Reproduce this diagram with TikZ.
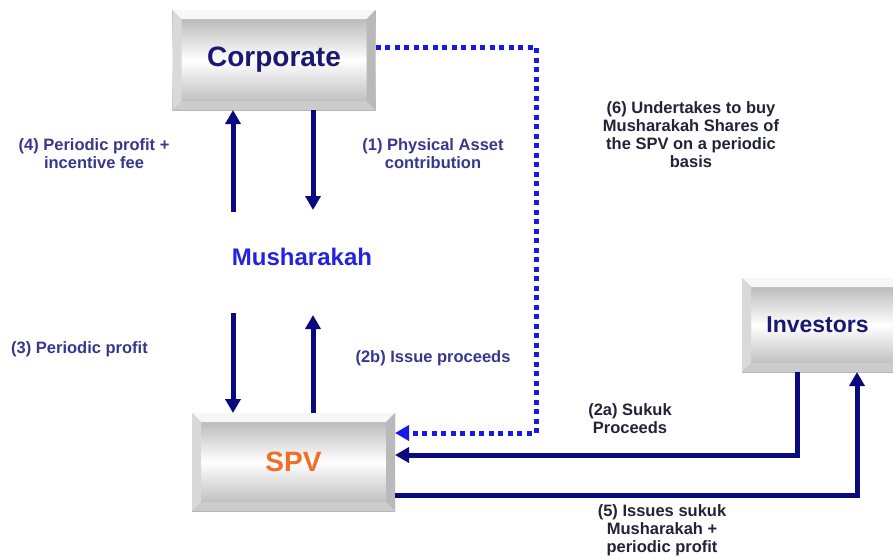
\documentclass[tikz,border=0pt]{standalone}
\usepackage{fontspec}
\setmainfont{Liberation Sans}
\usetikzlibrary{arrows.meta}

\definecolor{navy}{RGB}{10,10,128}
\definecolor{dotblue}{RGB}{25,25,230}
\definecolor{lblblue}{RGB}{55,55,140}
\definecolor{lbldark}{RGB}{35,35,55}
\definecolor{corptext}{RGB}{25,25,115}
\definecolor{musblue}{RGB}{35,35,225}
\definecolor{spvorange}{RGB}{240,110,40}

\tikzset{
  box/.style={rectangle, inner sep=0pt, outer sep=0pt,
    top color=gray!65, bottom color=gray!60, middle color=white,
    path picture={
      \path (path picture bounding box.north west) coordinate (bnw)
            (path picture bounding box.north east) coordinate (bne)
            (path picture bounding box.south west) coordinate (bsw)
            (path picture bounding box.south east) coordinate (bse)
            ([shift={(9pt,-9pt)}]path picture bounding box.north west) coordinate (inw)
            ([shift={(-9pt,-9pt)}]path picture bounding box.north east) coordinate (ine)
            ([shift={(9pt,9pt)}]path picture bounding box.south west) coordinate (isw)
            ([shift={(-9pt,9pt)}]path picture bounding box.south east) coordinate (ise);
      \fill[gray!6]  (bnw) -- (bne) -- (ine) -- (inw) -- cycle;
      \fill[gray!30] (bnw) -- (inw) -- (isw) -- (bsw) -- cycle;
      \fill[gray!55] (bne) -- (ine) -- (ise) -- (bse) -- cycle;
      \fill[gray!40] (bsw) -- (isw) -- (ise) -- (bse) -- cycle;
    }},
  flow/.style={navy, line width=5pt, -{Triangle[width=15pt,length=14pt]}},
  dotflow/.style={dotblue, line width=5pt, dash pattern=on 5pt off 4.5pt,
    -{Triangle[width=15pt,length=14pt]}},
  lbl/.style={lblblue, font=\bfseries\fontsize{16.5}{18}\selectfont, align=center, inner sep=0pt},
  lbldk/.style={lbldark, font=\bfseries\fontsize{16.5}{18}\selectfont, align=center, inner sep=0pt},
}

\begin{document}
\begin{tikzpicture}[x=1pt,y=-1pt]
	\useasboundingbox (0,0) rectangle (893,558);
	
	% Boxes
	\node[box, minimum width=203pt, minimum height=100pt] (corp) at (274,60)
		{\bfseries\fontsize{28}{30}\selectfont\color{corptext}Corporate};
	\node[box, minimum width=203pt, minimum height=98pt] (spv) at (293.5,462)
		{\bfseries\fontsize{28}{30}\selectfont\color{spvorange}SPV};
	\node[box, minimum width=160pt, minimum height=94pt] (inv) at (822,325)
		{\hspace*{-9pt}\bfseries\fontsize{23}{26}\selectfont\color{corptext}Investors};
	\node[musblue, font=\bfseries\fontsize{24}{26}\selectfont] (mus) at (302,257) {Musharakah};
	
	% Corporate <-> Musharakah
	\coordinate (c4) at (233,212);
	\coordinate (c1) at (313,210);
	\draw[flow] (c4) -- (c4 |- corp.south);
	\draw[flow] (c1 |- corp.south) -- (c1);
	
	% Musharakah <-> SPV
	\coordinate (c3) at (233,313);
	\coordinate (c2b) at (313,315);
	\draw[flow] (c3) -- (c3 |- spv.north);
	\draw[flow] (c2b |- spv.north) -- (c2b);
	
	% Undertaking (dotted)
	\coordinate (dtop) at (536,47);
	\coordinate (dbot) at (536,433);
	\draw[dotflow] (dtop -| corp.east) -- (dtop) -- (dbot) -- (dbot -| spv.east);
	
	% Investors <-> SPV
	\coordinate (a2) at (797,455);
	\coordinate (a5) at (857,495);
	\draw[flow] (a2 |- inv.south) -- (a2) -- (a2 -| spv.east);
	\draw[flow] (a5 -| spv.east) -- (a5) -- (a5 |- inv.south);
	
	% Labels
	\node[lbl] (l4) at (94,154) {(4) Periodic profit +\\incentive fee};
	\node[lbl] (l1) at (433,154) {(1) Physical Asset\\contribution};
	\node[lbl, anchor=west] (l3) at (11,349) {(3) Periodic profit};
	\node[lbl] (l2b) at (433,358) {(2b) Issue proceeds};
	\node[lbldk] (l6) at (691,135) {(6) Undertakes to buy\\Musharakah Shares of\\the SPV on a periodic\\basis};
	\node[lbldk] (l2a) at (630,419) {(2a) Sukuk\\Proceeds};
	\node[lbldk] (l5) at (662,530) {(5) Issues sukuk\\Musharakah +\\periodic profit};
\end{tikzpicture}
\end{document}
